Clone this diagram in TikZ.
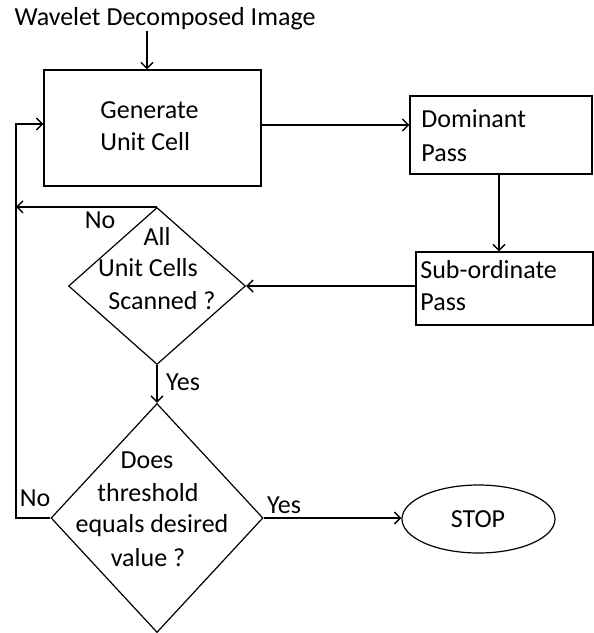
\documentclass[tikz,border=0pt]{standalone}
\usepackage{fontspec}
\setmainfont{Carlito}
\usetikzlibrary{arrows.meta,shapes.geometric,calc}
\begin{document}
\begin{tikzpicture}[x=0.5pt,y=-0.5pt,
  every node/.style={font=\fontsize{13}{16}\selectfont, inner sep=0pt},
  box/.style={draw, line width=0.7pt, rectangle},
  dia/.style={draw, line width=0.6pt, diamond},
  oval/.style={draw, line width=0.6pt, ellipse},
  arr/.style={draw, line width=0.7pt, -{Straight Barb[length=3pt,width=6pt]}},
  txt/.style={anchor=center},
  ltxt/.style={anchor=west}]
\useasboundingbox (0,0) rectangle (594,633);
% shapes
\node[box, minimum width=108.5pt, minimum height=58pt] (gen) at (152.5,128) {};
\node[box, minimum width=91pt, minimum height=39pt] (dom) at (501,135) {};
\node[box, minimum width=88.5pt, minimum height=36.5pt] (sub) at (504.5,288.5) {};
\node[dia, minimum width=88.5pt, minimum height=78.5pt] (d1) at (157,286) {};
\node[dia, minimum width=106pt, minimum height=114.5pt] (d2) at (157,518) {};
\node[oval, minimum width=76.5pt, minimum height=34pt] (stop) at (478.5,519) {};
% texts
\node[txt] (title) at (165,19) {Wavelet Decomposed Image};
\node[ltxt] (g1) at (100,110) {Generate};
\node[ltxt] (g2) at (100,142) {Unit Cell};
\node[ltxt] (p1) at (421,119) {Dominant};
\node[ltxt] (p2) at (421,153) {Pass};
\node[ltxt] (s1) at (420,270) {Sub-ordinate};
\node[ltxt] (s2) at (420,302) {Pass};
\node[txt] (a1) at (157,236) {All};
\node[txt] (a2) at (148,268) {Unit Cells};
\node[txt] (a3) at (162,301) {Scanned ?};
\node[txt] (b1) at (147,460) {Does};
\node[txt] (b2) at (148,493) {threshold};
\node[txt] (b3) at (152,526) {equals desired};
\node[txt] (b4) at (148,558) {value ?};
\node[txt] (stopt) at (478,519) {STOP};
\node[txt] (no1) at (100,220) {No};
\node[txt] (yes1) at (183,382) {Yes};
\node[txt] (no2) at (35,498) {No};
\node[txt] (yes2) at (284,505) {Yes};
% connector helpers
\coordinate (loop) at (16,0);
\coordinate (genin) at ([xshift=-2.75pt]gen.north);
% connectors
\draw[arr] (title.south -| genin) -- (genin);
\draw[arr] ([yshift=1.5pt]gen.east) -- ([yshift=1.5pt]gen.east -| dom.west);
\draw[arr] ([xshift=-1pt]dom.south) -- ([xshift=-1pt]dom.south |- sub.north);
\draw[arr] (sub.west |- d1.east) -- (d1.east);
\draw[arr] (d1.north) -- (d1.north -| loop);
\draw[arr] (d1.south) -- (d2.north);
\draw[arr] (d2.east) -- (d2.east -| stop.west);
\draw[arr] (d2.west) -- (d2.west -| loop) |- ([yshift=2pt]gen.west);
\end{tikzpicture}
\end{document}
